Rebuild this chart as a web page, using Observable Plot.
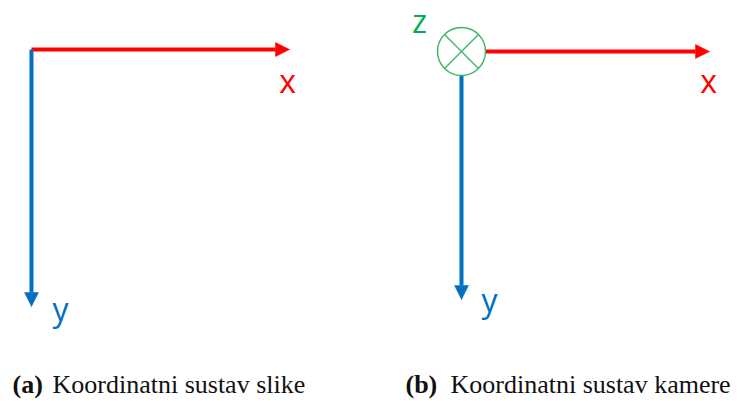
<!DOCTYPE html>
<html>
<head>
<meta charset="utf-8">
<script src="https://cdn.jsdelivr.net/npm/d3@7"></script>
<script src="https://cdn.jsdelivr.net/npm/@observablehq/plot@0.6"></script>
<style>
  html, body { margin: 0; padding: 0; background: #fff; }
  #chart svg { display: block; }
</style>
</head>
<body>
<div id="chart"></div>
<script>
// Axis arrows of the two coordinate-system panels (diagram coordinates, px)
const arrowPanel = ["a", "a", "b", "b"];
const arrowAxis  = ["x", "y", "x", "y"];
const arrowX1    = [31, 31, 485, 461];
const arrowY1    = [49, 49, 51, 75];
const arrowX2    = [289, 31, 709, 461];
const arrowY2    = [49, 306, 51, 299];
const arrowColor = ["#ff0000", "#0070c0", "#ff0000", "#0070c0"];

// Axis labels
const labelText  = ["x", "y", "x", "y", "z"];
const labelX     = [287, 60, 708, 489, 419];
const labelY     = [92, 320, 92, 311, 32];
const labelColor = ["#ff0000", "#0070c0", "#ff0000", "#0070c0", "#00b050"];

// z axis (into the page) symbol
const zCenterX = [461];
const zCenterY = [51];
const zRadius  = 24;

// Captions
const captionTag   = ["(a)", "(b)"];
const captionText  = ["Koordinatni sustav slike", "Koordinatni sustav kamere"];
const captionTagX  = [12, 405];
const captionTextX = [52, 450];
const captionY     = 392;

const headLen = 14, headHalf = 7;

const arrows = arrowPanel.map((p, i) => ({
  panel: p, axis: arrowAxis[i],
  x1: arrowX1[i], y1: arrowY1[i], x2: arrowX2[i], y2: arrowY2[i], color: arrowColor[i]
}));
// shaft ends at the base of the head
const shafts = arrows.map(a => {
  const dx = a.x2 - a.x1, dy = a.y2 - a.y1, L = Math.hypot(dx, dy);
  return {...a, x2: a.x2 - dx / L * headLen, y2: a.y2 - dy / L * headLen};
});
const heads = arrows.flatMap((a, i) => {
  const dx = a.x2 - a.x1, dy = a.y2 - a.y1, L = Math.hypot(dx, dy);
  const ux = dx / L, uy = dy / L;
  const bx = a.x2 - ux * headLen, by = a.y2 - uy * headLen;
  return [
    {id: i, color: a.color, x: a.x2, y: a.y2},
    {id: i, color: a.color, x: bx - uy * headHalf, y: by + ux * headHalf},
    {id: i, color: a.color, x: bx + uy * headHalf, y: by - ux * headHalf},
    {id: i, color: a.color, x: a.x2, y: a.y2}
  ];
});
const labels = labelText.map((t, i) => ({t, x: labelX[i], y: labelY[i], color: labelColor[i]}));
const zc = zCenterX.map((x, i) => ({x, y: zCenterY[i]}));
const d45 = zRadius / Math.SQRT2;
const cross = zc.flatMap(c => [
  {x1: c.x - d45, y1: c.y - d45, x2: c.x + d45, y2: c.y + d45},
  {x1: c.x - d45, y1: c.y + d45, x2: c.x + d45, y2: c.y - d45}
]);
const captions = captionTag.map((tag, i) => ({tag, text: captionText[i], tx: captionTagX[i], x: captionTextX[i]}));

const chart = Plot.plot({
  width: 751,
  height: 401,
  margin: 0,
  x: {domain: [0, 751], range: [0, 751], axis: null},
  y: {domain: [0, 401], range: [0, 401], axis: null},
  marks: [
    Plot.link(shafts, {x1: "x1", y1: "y1", x2: "x2", y2: "y2", stroke: d => d.color, strokeWidth: 4, strokeLinecap: "butt"}),
    Plot.line(heads, {x: "x", y: "y", z: "id", fill: d => d.color, stroke: d => d.color, strokeWidth: 0.5}),
    Plot.dot(zc, {x: "x", y: "y", r: zRadius, stroke: "#3cb46a", strokeWidth: 1.4, fill: "white"}),
    Plot.link(cross, {x1: "x1", y1: "y1", x2: "x2", y2: "y2", stroke: "#3cb46a", strokeWidth: 1.3}),
    Plot.text(labels, {x: "x", y: "y", text: "t", fill: d => d.color, fontSize: 32, fontFamily: "Open Sans", lineAnchor: "bottom", textAnchor: "middle"}),
    Plot.text(captions, {x: "tx", y: () => captionY, text: "tag", fill: "#111", fontSize: 26, fontWeight: "bold", fontFamily: "Liberation Serif", lineAnchor: "bottom", textAnchor: "start"}),
    Plot.text(captions, {x: "x", y: () => captionY, text: "text", fill: "#111", fontSize: 26, fontFamily: "Liberation Serif", lineAnchor: "bottom", textAnchor: "start"})
  ]
});
document.getElementById("chart").appendChild(chart);
</script>
</body>
</html>
